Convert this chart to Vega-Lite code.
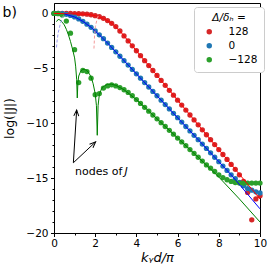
{
  "$schema": "https://vega.github.io/schema/vega-lite/v6.json",
  "autosize": {"type": "none"},
  "padding": {"left": 54, "top": 3, "right": 9, "bottom": 36},
  "width": 206,
  "height": 230,
  "background": "white",
  "config": {
    "font": "DejaVu Sans",
    "view": {"stroke": "black", "strokeWidth": 1},
    "axis": {"grid": false, "domainColor": "black", "tickColor": "black", "labelColor": "black", "titleColor": "black", "labelFont": "DejaVu Sans", "titleFont": "DejaVu Sans", "titleFontWeight": "normal"}
  },
  "datasets": {
    "dots": [
      {"x":0,"y":0,"s":"128"},{"x":0.2,"y":0,"s":"128"},{"x":0.4,"y":0,"s":"128"},{"x":0.6,"y":0,"s":"128"},{"x":0.8,"y":0,"s":"128"},{"x":1.0,"y":-0.01,"s":"128"},{"x":1.2,"y":-0.02,"s":"128"},{"x":1.4,"y":-0.04,"s":"128"},{"x":1.6,"y":-0.07,"s":"128"},{"x":1.8,"y":-0.12,"s":"128"},{"x":2.0,"y":-0.2,"s":"128"},{"x":2.2,"y":-0.3,"s":"128"},{"x":2.4,"y":-0.45,"s":"128"},{"x":2.6,"y":-0.65,"s":"128"},{"x":2.8,"y":-0.9,"s":"128"},{"x":3.0,"y":-1.2,"s":"128"},{"x":3.2,"y":-1.6,"s":"128"},{"x":3.4,"y":-2.05,"s":"128"},{"x":3.6,"y":-2.5,"s":"128"},{"x":3.8,"y":-2.95,"s":"128"},{"x":4.0,"y":-3.4,"s":"128"},{"x":4.2,"y":-3.85,"s":"128"},{"x":4.4,"y":-4.3,"s":"128"},{"x":4.6,"y":-4.75,"s":"128"},{"x":4.8,"y":-5.2,"s":"128"},{"x":5.0,"y":-5.65,"s":"128"},{"x":5.2,"y":-6.1,"s":"128"},{"x":5.4,"y":-6.55,"s":"128"},{"x":5.6,"y":-7.0,"s":"128"},{"x":5.8,"y":-7.45,"s":"128"},{"x":6.0,"y":-7.9,"s":"128"},{"x":6.2,"y":-8.35,"s":"128"},{"x":6.4,"y":-8.8,"s":"128"},{"x":6.6,"y":-9.25,"s":"128"},{"x":6.8,"y":-9.7,"s":"128"},{"x":7.0,"y":-10.15,"s":"128"},{"x":7.2,"y":-10.6,"s":"128"},{"x":7.4,"y":-11.05,"s":"128"},{"x":7.6,"y":-11.5,"s":"128"},{"x":7.8,"y":-11.95,"s":"128"},{"x":8.0,"y":-12.4,"s":"128"},{"x":8.2,"y":-12.85,"s":"128"},{"x":8.4,"y":-13.3,"s":"128"},{"x":8.6,"y":-13.75,"s":"128"},{"x":8.8,"y":-14.2,"s":"128"},{"x":9.0,"y":-14.7,"s":"128"},{"x":9.2,"y":-15.3,"s":"128"},{"x":9.4,"y":-16.3,"s":"128"},{"x":9.6,"y":-18.8,"s":"128"},{"x":9.8,"y":-16.9,"s":"128"},{"x":10.0,"y":-16.6,"s":"128"},
      {"x":0,"y":0,"s":"0"},{"x":0.2,"y":0,"s":"0"},{"x":0.4,"y":-0.02,"s":"0"},{"x":0.6,"y":-0.08,"s":"0"},{"x":0.8,"y":-0.18,"s":"0"},{"x":1.0,"y":-0.32,"s":"0"},{"x":1.2,"y":-0.5,"s":"0"},{"x":1.4,"y":-0.72,"s":"0"},{"x":1.6,"y":-0.98,"s":"0"},{"x":1.8,"y":-1.27,"s":"0"},{"x":2.0,"y":-1.6,"s":"0"},{"x":2.2,"y":-1.95,"s":"0"},{"x":2.4,"y":-2.3,"s":"0"},{"x":2.6,"y":-2.7,"s":"0"},{"x":2.8,"y":-3.1,"s":"0"},{"x":3.0,"y":-3.5,"s":"0"},{"x":3.2,"y":-3.9,"s":"0"},{"x":3.4,"y":-4.3,"s":"0"},{"x":3.6,"y":-4.7,"s":"0"},{"x":3.8,"y":-5.1,"s":"0"},{"x":4.0,"y":-5.5,"s":"0"},{"x":4.2,"y":-5.9,"s":"0"},{"x":4.4,"y":-6.3,"s":"0"},{"x":4.6,"y":-6.7,"s":"0"},{"x":4.8,"y":-7.1,"s":"0"},{"x":5.0,"y":-7.5,"s":"0"},{"x":5.2,"y":-7.9,"s":"0"},{"x":5.4,"y":-8.3,"s":"0"},{"x":5.6,"y":-8.7,"s":"0"},{"x":5.8,"y":-9.1,"s":"0"},{"x":6.0,"y":-9.5,"s":"0"},{"x":6.2,"y":-9.9,"s":"0"},{"x":6.4,"y":-10.3,"s":"0"},{"x":6.6,"y":-10.7,"s":"0"},{"x":6.8,"y":-11.1,"s":"0"},{"x":7.0,"y":-11.5,"s":"0"},{"x":7.2,"y":-11.9,"s":"0"},{"x":7.4,"y":-12.3,"s":"0"},{"x":7.6,"y":-12.7,"s":"0"},{"x":7.8,"y":-13.1,"s":"0"},{"x":8.0,"y":-13.5,"s":"0"},{"x":8.2,"y":-13.9,"s":"0"},{"x":8.4,"y":-14.3,"s":"0"},{"x":8.6,"y":-14.7,"s":"0"},{"x":8.8,"y":-15.05,"s":"0"},{"x":9.0,"y":-15.4,"s":"0"},{"x":9.2,"y":-15.7,"s":"0"},{"x":9.4,"y":-15.95,"s":"0"},{"x":9.6,"y":-16.1,"s":"0"},{"x":9.8,"y":-16.25,"s":"0"},{"x":10.0,"y":-16.35,"s":"0"},
      {"x":0,"y":0,"s":"−128"},{"x":0.2,"y":-0.02,"s":"−128"},{"x":0.4,"y":-0.15,"s":"−128"},{"x":0.6,"y":-0.7,"s":"−128"},{"x":0.8,"y":-1.8,"s":"−128"},{"x":1.0,"y":-3.3,"s":"−128"},{"x":1.2,"y":-6.3,"s":"−128"},{"x":1.4,"y":-5.2,"s":"−128"},{"x":1.6,"y":-5.3,"s":"−128"},{"x":1.8,"y":-5.9,"s":"−128"},{"x":2.0,"y":-7.4,"s":"−128"},{"x":2.2,"y":-7.3,"s":"−128"},{"x":2.4,"y":-6.8,"s":"−128"},{"x":2.6,"y":-6.6,"s":"−128"},{"x":2.8,"y":-6.5,"s":"−128"},{"x":3.0,"y":-6.6,"s":"−128"},{"x":3.2,"y":-6.75,"s":"−128"},{"x":3.4,"y":-6.95,"s":"−128"},{"x":3.6,"y":-7.2,"s":"−128"},{"x":3.8,"y":-7.5,"s":"−128"},{"x":4.0,"y":-7.85,"s":"−128"},{"x":4.2,"y":-8.2,"s":"−128"},{"x":4.4,"y":-8.55,"s":"−128"},{"x":4.6,"y":-8.9,"s":"−128"},{"x":4.8,"y":-9.25,"s":"−128"},{"x":5.0,"y":-9.6,"s":"−128"},{"x":5.2,"y":-9.95,"s":"−128"},{"x":5.4,"y":-10.3,"s":"−128"},{"x":5.6,"y":-10.65,"s":"−128"},{"x":5.8,"y":-11.0,"s":"−128"},{"x":6.0,"y":-11.35,"s":"−128"},{"x":6.2,"y":-11.7,"s":"−128"},{"x":6.4,"y":-12.05,"s":"−128"},{"x":6.6,"y":-12.4,"s":"−128"},{"x":6.8,"y":-12.75,"s":"−128"},{"x":7.0,"y":-13.1,"s":"−128"},{"x":7.2,"y":-13.45,"s":"−128"},{"x":7.4,"y":-13.8,"s":"−128"},{"x":7.6,"y":-14.1,"s":"−128"},{"x":7.8,"y":-14.4,"s":"−128"},{"x":8.0,"y":-14.7,"s":"−128"},{"x":8.2,"y":-14.95,"s":"−128"},{"x":8.4,"y":-15.15,"s":"−128"},{"x":8.6,"y":-15.3,"s":"−128"},{"x":8.8,"y":-15.4,"s":"−128"},{"x":9.0,"y":-15.45,"s":"−128"},{"x":9.2,"y":-15.45,"s":"−128"},{"x":9.4,"y":-15.45,"s":"−128"},{"x":9.6,"y":-15.45,"s":"−128"},{"x":9.8,"y":-15.45,"s":"−128"},{"x":10.0,"y":-15.45,"s":"−128"}
    ],
    "theory": [
      {"x":0,"y":0,"c":"128"},{"x":1.6,"y":-0.07,"c":"128"},{"x":2.0,"y":-0.2,"c":"128"},{"x":2.4,"y":-0.45,"c":"128"},{"x":2.8,"y":-0.9,"c":"128"},{"x":3.2,"y":-1.6,"c":"128"},{"x":3.6,"y":-2.5,"c":"128"},{"x":4.0,"y":-3.4,"c":"128"},{"x":10.0,"y":-16.9,"c":"128"},
      {"x":0.5,"y":-0.05,"c":"0"},{"x":1.0,"y":-0.32,"c":"0"},{"x":1.4,"y":-0.72,"c":"0"},{"x":1.8,"y":-1.27,"c":"0"},{"x":2.2,"y":-1.95,"c":"0"},{"x":2.6,"y":-2.7,"c":"0"},{"x":3.0,"y":-3.5,"c":"0"},{"x":8.6,"y":-14.7,"c":"0"},{"x":10.0,"y":-17.8,"c":"0"},
      {"x":0.12,"y":-0.75,"c":"−128"},{"x":0.2,"y":-0.55,"c":"−128"},{"x":0.3,"y":-0.6,"c":"−128"},{"x":0.4,"y":-0.8,"c":"−128"},{"x":0.5,"y":-1.05,"c":"−128"},{"x":0.6,"y":-1.45,"c":"−128"},{"x":0.7,"y":-1.95,"c":"−128"},{"x":0.8,"y":-2.55,"c":"−128"},{"x":0.9,"y":-3.25,"c":"−128"},{"x":1.0,"y":-4.05,"c":"−128"},{"x":1.05,"y":-4.8,"c":"−128"},{"x":1.1,"y":-6.0,"c":"−128"},{"x":1.13,"y":-7.7,"c":"−128"},{"x":1.16,"y":-6.3,"c":"−128"},{"x":1.2,"y":-5.7,"c":"−128"},{"x":1.3,"y":-5.25,"c":"−128"},{"x":1.4,"y":-5.1,"c":"−128"},{"x":1.5,"y":-5.1,"c":"−128"},{"x":1.6,"y":-5.2,"c":"−128"},{"x":1.7,"y":-5.45,"c":"−128"},{"x":1.8,"y":-5.8,"c":"−128"},{"x":1.9,"y":-6.4,"c":"−128"},{"x":2.0,"y":-7.3,"c":"−128"},{"x":2.06,"y":-8.4,"c":"−128"},{"x":2.1,"y":-11.1,"c":"−128"},{"x":2.14,"y":-8.4,"c":"−128"},{"x":2.2,"y":-7.4,"c":"−128"},{"x":2.3,"y":-6.9,"c":"−128"},{"x":2.4,"y":-6.65,"c":"−128"},{"x":2.6,"y":-6.45,"c":"−128"},{"x":2.8,"y":-6.45,"c":"−128"},{"x":3.0,"y":-6.55,"c":"−128"},{"x":3.4,"y":-6.95,"c":"−128"},{"x":4.0,"y":-7.85,"c":"−128"},{"x":5.0,"y":-9.6,"c":"−128"},{"x":6.0,"y":-11.35,"c":"−128"},{"x":7.0,"y":-13.1,"c":"−128"},{"x":8.0,"y":-14.9,"c":"−128"},{"x":9.0,"y":-16.9,"c":"−128"},{"x":10.0,"y":-19.0,"c":"−128"},
      {"x":2.15,"y":-0.2,"c":"128 approx"},{"x":2.08,"y":-0.6,"c":"128 approx"},{"x":2.01,"y":-1.2,"c":"128 approx"},{"x":1.97,"y":-2.0,"c":"128 approx"},{"x":1.94,"y":-3.2,"c":"128 approx"},
      {"x":0.5,"y":-0.1,"c":"0 approx"},{"x":0.4,"y":-0.4,"c":"0 approx"},{"x":0.3,"y":-1.0,"c":"0 approx"},{"x":0.2,"y":-1.8,"c":"0 approx"},{"x":0.15,"y":-2.5,"c":"0 approx"},{"x":0.12,"y":-3.1,"c":"0 approx"}
    ],
    "arrows": [
      {"name":"a1","x":0.94,"y":-13.6,"x2":1.1,"y2":-8.8},
      {"name":"a2","x":0.94,"y":-13.6,"x2":2.02,"y2":-11.7}
    ],
    "labels": [
      {"t":"nodes of","x":1.02,"y":-14.4},
      {"t":"J","x":3.42,"y":-14.4},
      {"t":"b)","x":-2.5,"y":0.05}
    ]
  },
  "layer": [
    {
      "data": {"name": "dots"},
      "mark": {"type": "point", "filled": true, "size": 28, "opacity": 1},
      "encoding": {
        "x": {"field": "x", "type": "quantitative", "scale": {"domain": [0, 10], "nice": false, "zero": false},
          "axis": {"values": [0,2,4,6,8,10], "tickSize": 3.5, "labelFontSize": 10.5, "labelPadding": 2, "title": "kᵧd/π", "titleFontSize": 13, "titleFontStyle": "italic", "titlePadding": 2, "labelFlush": false}},
        "y": {"field": "y", "type": "quantitative", "scale": {"domain": [-20, 0.95], "nice": false, "zero": false},
          "axis": {"values": [0,-5,-10,-15,-20], "tickSize": 3.5, "labelFontSize": 10.5, "labelPadding": 2.5, "title": "log(|J|)", "titleFontSize": 12.5, "titlePadding": 9, "labelFlush": false}},
        "color": {"field": "s", "type": "nominal",
          "scale": {"domain": ["128", "0", "−128"], "range": ["#d62728", "#1f77b4", "#2ca02c"]},
          "legend": {"title": "Δ/δₕ =", "orient": "none", "legendX": 140, "legendY": 4, "padding": 6, "strokeColor": "#cccccc", "fillColor": "white", "cornerRadius": 3, "titleFontSize": 10.5, "titleFontWeight": "normal", "titleFontStyle": "italic", "titleFont": "DejaVu Sans", "labelFontSize": 10.5, "labelFont": "DejaVu Sans", "symbolSize": 30, "labelOffset": 14, "rowPadding": 3, "titleAnchor": "middle", "titlePadding": 3, "symbolOffset": 4}}
      }
    },
    {
      "data": {"name": "dots"},
      "mark": {"type": "point", "opacity": 0},
      "encoding": {
        "x": {"field": "x", "type": "quantitative", "axis": {"values": [1,3,5,7,9], "tickSize": 2, "labels": false, "domain": false, "title": null, "orient": "bottom"}},
        "y": {"field": "y", "type": "quantitative", "axis": {"values": [-1,-2,-3,-4,-6,-7,-8,-9,-11,-12,-13,-14,-16,-17,-18,-19], "tickSize": 2, "labels": false, "domain": false, "title": null, "orient": "left"}}
      }
    },
    {
      "data": {"name": "theory"},
      "transform": [{"filter": "datum.c === '128'"}],
      "mark": {"type": "line", "color": "#ff0000", "strokeWidth": 1},
      "encoding": {"x": {"field": "x", "type": "quantitative", "axis": null}, "y": {"field": "y", "type": "quantitative", "axis": null}}
    },
    {
      "data": {"name": "theory"},
      "transform": [{"filter": "datum.c === '0'"}],
      "mark": {"type": "line", "color": "#0000ff", "strokeWidth": 1},
      "encoding": {"x": {"field": "x", "type": "quantitative", "axis": null}, "y": {"field": "y", "type": "quantitative", "axis": null}}
    },
    {
      "data": {"name": "theory"},
      "transform": [{"filter": "datum.c === '−128'"}],
      "mark": {"type": "line", "color": "#008000", "strokeWidth": 1},
      "encoding": {"x": {"field": "x", "type": "quantitative", "axis": null}, "y": {"field": "y", "type": "quantitative", "axis": null}}
    },
    {
      "data": {"name": "theory"},
      "transform": [{"filter": "datum.c === '128 approx'"}],
      "mark": {"type": "line", "color": "#f49a9a", "strokeWidth": 1, "strokeDash": [3, 2]},
      "encoding": {"x": {"field": "x", "type": "quantitative", "axis": null}, "y": {"field": "y", "type": "quantitative", "axis": null}, "order": {"field": "y"}}
    },
    {
      "data": {"name": "theory"},
      "transform": [{"filter": "datum.c === '0 approx'"}],
      "mark": {"type": "line", "color": "#9a9af0", "strokeWidth": 1, "strokeDash": [3, 2]},
      "encoding": {"x": {"field": "x", "type": "quantitative", "axis": null}, "y": {"field": "y", "type": "quantitative", "axis": null}, "order": {"field": "y"}}
    },
    {
      "data": {"name": "arrows"},
      "mark": {"type": "rule", "color": "black", "strokeWidth": 1},
      "encoding": {"x": {"field": "x", "type": "quantitative", "axis": null}, "y": {"field": "y", "type": "quantitative", "axis": null}, "x2": {"field": "x2"}, "y2": {"field": "y2"}}
    },
    {
      "data": {"name": "arrows"},
      "transform": [{"filter": "datum.name === 'a1'"}],
      "mark": {"type": "point", "shape": "M -0.5 1.2 L 0 0 L 0.5 1.2", "filled": false, "stroke": "black", "strokeWidth": 1, "size": 100, "angle": 3.6, "opacity": 1},
      "encoding": {"x": {"field": "x2", "type": "quantitative", "axis": null}, "y": {"field": "y2", "type": "quantitative", "axis": null}}
    },
    {
      "data": {"name": "arrows"},
      "transform": [{"filter": "datum.name === 'a2'"}],
      "mark": {"type": "point", "shape": "M -0.5 1.2 L 0 0 L 0.5 1.2", "filled": false, "stroke": "black", "strokeWidth": 1, "size": 100, "angle": 46.7, "opacity": 1},
      "encoding": {"x": {"field": "x2", "type": "quantitative", "axis": null}, "y": {"field": "y2", "type": "quantitative", "axis": null}}
    },
    {
      "data": {"name": "labels"},
      "transform": [{"filter": "datum.t === 'nodes of'"}],
      "mark": {"type": "text", "align": "left", "baseline": "middle", "fontSize": 11, "color": "black", "font": "DejaVu Sans"},
      "encoding": {"x": {"field": "x", "type": "quantitative", "axis": null}, "y": {"field": "y", "type": "quantitative", "axis": null}, "text": {"field": "t"}}
    },
    {
      "data": {"name": "labels"},
      "transform": [{"filter": "datum.t === 'J'"}],
      "mark": {"type": "text", "align": "left", "baseline": "middle", "fontSize": 11, "fontStyle": "italic", "color": "black", "font": "DejaVu Sans"},
      "encoding": {"x": {"field": "x", "type": "quantitative", "axis": null}, "y": {"field": "y", "type": "quantitative", "axis": null}, "text": {"field": "t"}}
    },
    {
      "data": {"name": "labels"},
      "transform": [{"filter": "datum.t === 'b)'"}],
      "mark": {"type": "text", "align": "left", "baseline": "middle", "fontSize": 14, "color": "black", "font": "DejaVu Sans", "clip": false},
      "encoding": {"x": {"field": "x", "type": "quantitative", "axis": null}, "y": {"field": "y", "type": "quantitative", "axis": null}, "text": {"field": "t"}}
    }
  ],
  "resolve": {"axis": {"x": "independent", "y": "independent"}}
}
